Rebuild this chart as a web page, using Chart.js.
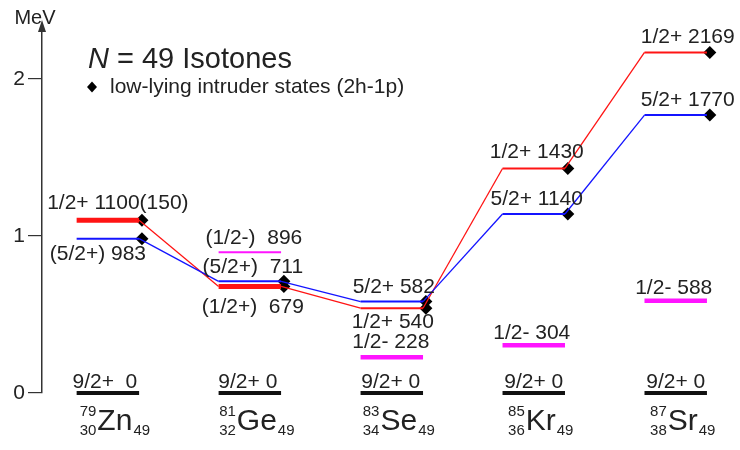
<!DOCTYPE html>
<html lang="en">
<head>
<meta charset="UTF-8">
<title>N = 49 Isotones</title>
<script src="https://cdn.jsdelivr.net/npm/chart.js@4"></script>
<style>
  body { margin: 0; background: #fff; }
</style>
</head>
<body>
<canvas id="levels" width="740" height="450"></canvas>
<script>
// N = 49 isotones, level energies in keV
const elements = ['Zn', 'Ge', 'Se', 'Kr', 'Sr'];
const massNumbers = [79, 81, 83, 85, 87];
const protonNumbers = [30, 32, 34, 36, 38];
const neutronNumber = 49;

const groundSpins = ['9/2+  ', '9/2+ ', '9/2+ ', '9/2+ ', '9/2+ '];
const groundEnergies = [0, 0, 0, 0, 0];

// 1/2+ intruder states (red)
const halfPlusSpins = ['1/2+ ', '(1/2+)  ', '1/2+ ', '1/2+ ', '1/2+ '];
const halfPlusEnergies = [1100, 679, 540, 1430, 2169];
const halfPlusNotes = ['(150)', '', '', '', ''];

// 5/2+ intruder states (blue)
const fivePlusSpins = ['(5/2+) ', '(5/2+)  ', '5/2+ ', '5/2+ ', '5/2+ '];
const fivePlusEnergies = [983, 711, 582, 1140, 1770];

// 1/2- states (magenta), none known in Zn
const halfMinusSpins = [null, '(1/2-)  ', '1/2- ', '1/2- ', '1/2- '];
const halfMinusEnergies = [null, 896, 228, 304, 588];

const yTicks = [0, 1, 2];

// ---- drawing setup ----
const FONT = '"Liberation Sans", Arial, sans-serif';
const INK = '#222';
const RED = '#ff1414';
const BLUE = '#1414ff';
const MAGENTA = '#ff14ff';
const HALF = 0.22;                  // half width of a level line (x units)
const redBarWidths = [5, 5, 2, 2, 2];
const minusBarWidths = [0, 2, 4.5, 4.5, 4.5];

// label offsets in px from column centre / level line: [dx, dy]
const halfPlusOffsets = [[10, -17], [3, 21], [1, 14], [3, -16], [12, -15]];
const fivePlusOffsets = [[-10, 16], [3, -14], [2, -14], [3, -15], [12, -15]];
const halfMinusOffsets = [null, [4, -14], [-1, -15], [-2, -12], [-2, -12]];
const groundOffsets = [[-3, -11], [-2, -11], [-1, -11], [0, -11], [0, -11]];

const mev = e => e / 1000;

function chain(energies) {
  const pts = [];
  energies.forEach((e, i) => {
    pts.push({ x: i - HALF, y: mev(e) });
    pts.push({ x: i + HALF, y: mev(e) });
  });
  return pts;
}

function bar(i, e, color, width) {
  return {
    data: [{ x: i - HALF, y: mev(e) }, { x: i + HALF, y: mev(e) }],
    showLine: true, borderColor: color, borderWidth: width,
    pointRadius: 0, borderCapStyle: 'butt'
  };
}

function pathSet(energies, color, barWidth) {
  return {
    data: chain(energies),
    showLine: true, borderColor: color, pointRadius: 0,
    borderWidth: 1.3,
    segment: {
      borderWidth: ctx => ctx.p0DataIndex % 2 === 0 ? barWidth(ctx.p0DataIndex / 2) : 1.3
    }
  };
}

const datasets = [];
elements.forEach((_, i) => datasets.push(bar(i, groundEnergies[i], '#111', 4)));
halfMinusEnergies.forEach((e, i) => {
  if (e !== null) datasets.push(bar(i, e, MAGENTA, minusBarWidths[i]));
});
datasets.push(pathSet(fivePlusEnergies, BLUE, () => 2));
datasets.push(pathSet(halfPlusEnergies, RED, i => redBarWidths[i]));

// intruder markers at the right end of each 1/2+ and 5/2+ level
const markers = [];
elements.forEach((_, i) => {
  markers.push({ x: i + HALF + 0.02, y: mev(fivePlusEnergies[i]) });
  markers.push({ x: i + HALF + 0.02, y: mev(halfPlusEnergies[i]) });
});
datasets.push({
  data: markers, showLine: false, pointStyle: 'rectRot',
  pointRadius: 6.5, backgroundColor: '#000', borderColor: '#000', borderWidth: 0
});

function text(ctx, str, x, y, font, align) {
  ctx.font = font;
  ctx.textAlign = align || 'center';
  ctx.fillText(str, x, y);
}

const annotate = {
  id: 'annotate',
  afterDatasetsDraw(chart) {
    const { ctx, scales: { x, y }, chartArea } = chart;
    ctx.save();
    ctx.fillStyle = INK;
    ctx.textBaseline = 'middle';
    const lab = `21px ${FONT}`;

    elements.forEach((el, i) => {
      const cx = x.getPixelForValue(i);
      const put = (str, e, off) => text(ctx, str, cx + off[0], y.getPixelForValue(mev(e)) + off[1], lab);
      put(groundSpins[i] + groundEnergies[i], groundEnergies[i], groundOffsets[i]);
      put(halfPlusSpins[i] + halfPlusEnergies[i] + halfPlusNotes[i], halfPlusEnergies[i], halfPlusOffsets[i]);
      put(fivePlusSpins[i] + fivePlusEnergies[i], fivePlusEnergies[i], fivePlusOffsets[i]);
      if (halfMinusEnergies[i] !== null) {
        put(halfMinusSpins[i] + halfMinusEnergies[i], halfMinusEnergies[i], halfMinusOffsets[i]);
      }

      // nucleus name with A, Z and N scripts
      ctx.textBaseline = 'alphabetic';
      const big = `30px ${FONT}`, small = `15px ${FONT}`;
      const a = String(massNumbers[i]), z = String(protonNumbers[i]), n = String(neutronNumber);
      ctx.font = small;
      const pre = Math.max(ctx.measureText(a).width, ctx.measureText(z).width);
      const nw = ctx.measureText(n).width;
      ctx.font = big;
      const sw = ctx.measureText(el).width;
      const left = cx + 7 - (pre + sw + nw + 2) / 2;
      text(ctx, a, left + pre, 416, small, 'right');
      text(ctx, z, left + pre, 435, small, 'right');
      text(ctx, el, left + pre + 1, 430, big, 'left');
      text(ctx, n, left + pre + sw + 2, 435, small, 'left');
      ctx.textBaseline = 'middle';
    });

    // axis arrow and unit
    const ax = chartArea.left;
    ctx.beginPath();
    ctx.moveTo(ax, chartArea.top - 4);
    ctx.lineTo(ax - 4, chartArea.top + 8);
    ctx.lineTo(ax + 4, chartArea.top + 8);
    ctx.closePath();
    ctx.fillStyle = '#333';
    ctx.fill();
    ctx.fillStyle = INK;
    ctx.textBaseline = 'alphabetic';
    text(ctx, 'MeV', 35, 23.5, `20px ${FONT}`);

    // title and legend
    ctx.font = `italic 29px ${FONT}`;
    ctx.textAlign = 'left';
    ctx.fillText('N', 88, 68);
    const nW = ctx.measureText('N').width;
    text(ctx, ' = 49 Isotones', 88 + nW, 68, `29px ${FONT}`, 'left');

    ctx.beginPath();
    ctx.moveTo(92, 81.5); ctx.lineTo(97, 87); ctx.lineTo(92, 92.5); ctx.lineTo(87, 87);
    ctx.closePath();
    ctx.fillStyle = '#000';
    ctx.fill();
    ctx.fillStyle = INK;
    text(ctx, 'low-lying intruder states (2h-1p)', 110, 93, `21px ${FONT}`, 'left');
    ctx.restore();
  }
};

new Chart(document.getElementById('levels'), {
  type: 'scatter',
  data: { datasets },
  options: {
    responsive: false,
    animation: false,
    clip: false,
    layout: { padding: { top: 24, bottom: 57, left: 0, right: 0 } },
    plugins: { legend: { display: false }, tooltip: { enabled: false } },
    scales: {
      x: { type: 'linear', display: false, min: -0.464, max: 4.407 },
      y: {
        min: 0, max: 2.35,
        afterFit: s => { s.width = 42; },
        afterBuildTicks: s => { s.ticks = yTicks.map(v => ({ value: v })); },
        grid: { drawOnChartArea: false, drawTicks: true, tickLength: 14, color: '#333', lineWidth: 1.2 },
        border: { display: true, color: '#333', width: 1.5 },
        ticks: { font: { size: 21, family: FONT }, color: INK, padding: 3 }
      }
    }
  },
  plugins: [annotate]
});
</script>
</body>
</html>
